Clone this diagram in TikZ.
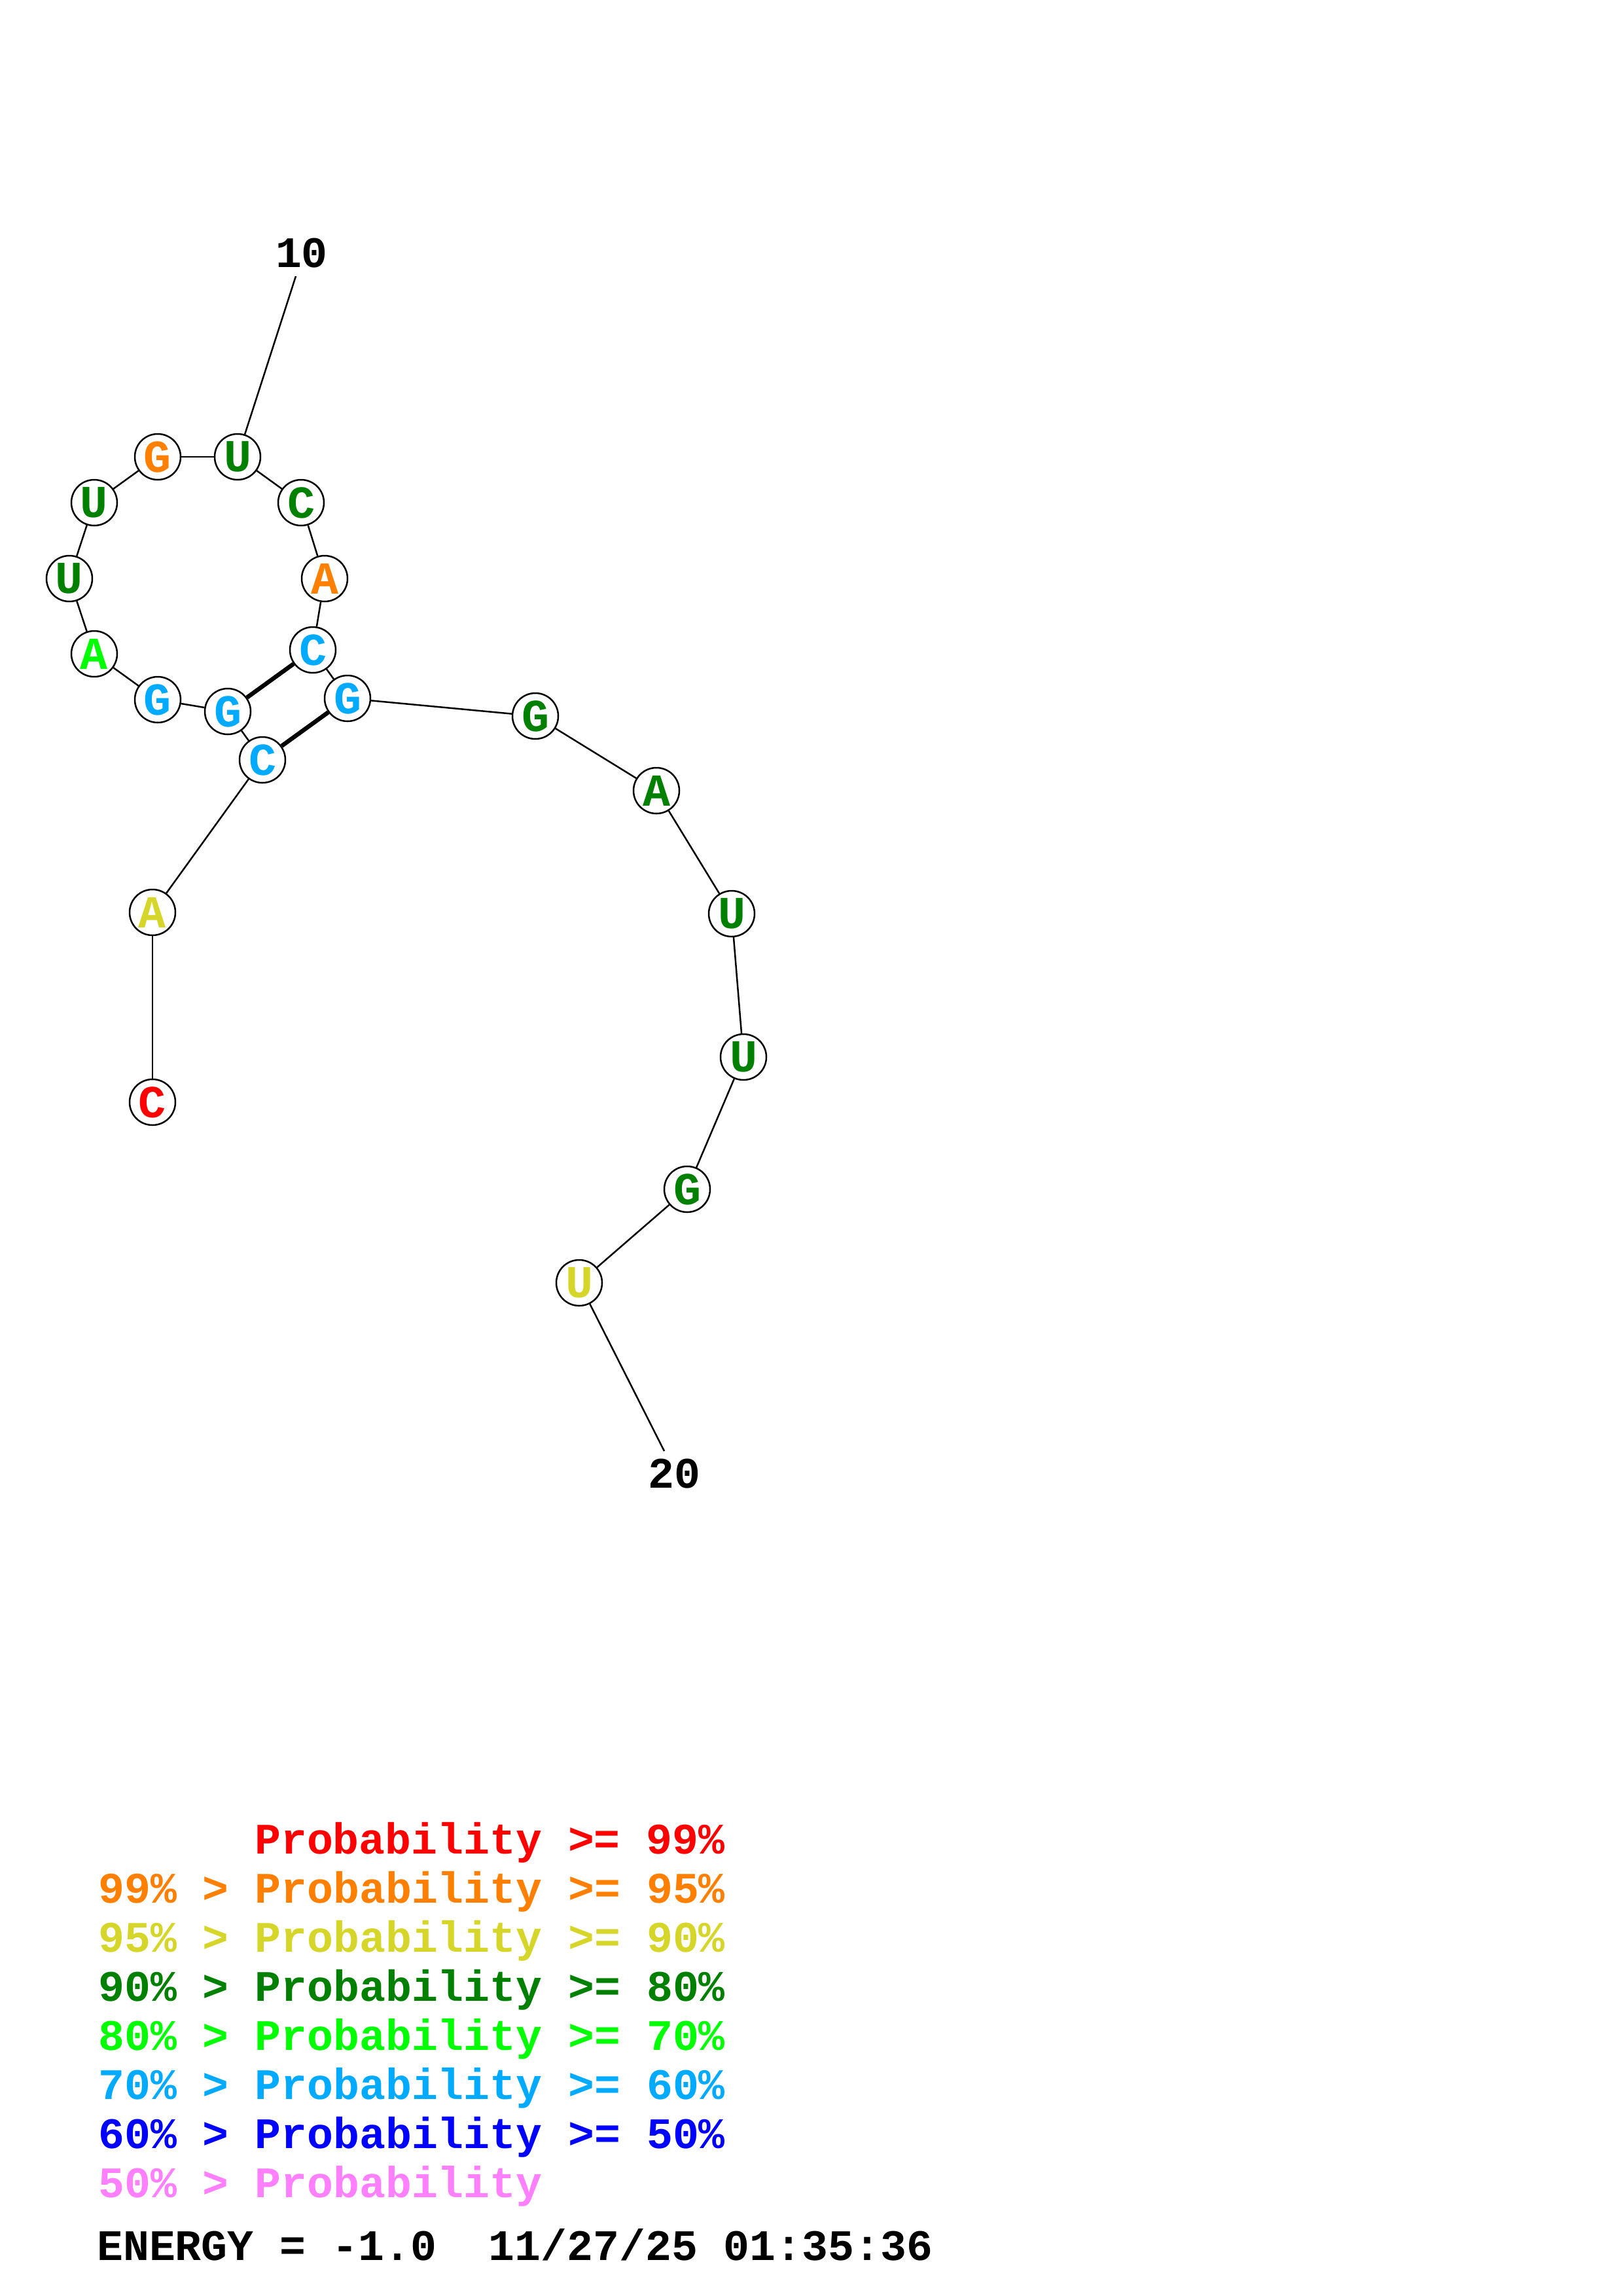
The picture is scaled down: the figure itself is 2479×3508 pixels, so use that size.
\documentclass[tikz,border=0pt]{standalone}
\usepackage{fontspec}
\newfontfamily\cour{Liberation Mono}
\definecolor{pRed}{RGB}{255,0,0}
\definecolor{pOrange}{RGB}{255,128,0}
\definecolor{pYellow}{RGB}{214,214,42}
\definecolor{pGreen}{RGB}{0,128,0}
\definecolor{pLime}{RGB}{0,255,0}
\definecolor{pCyan}{RGB}{0,170,255}
\definecolor{pBlue}{RGB}{0,0,255}
\definecolor{pPink}{RGB}{255,128,255}
\begin{document}
\begin{tikzpicture}[x=1pt,y=-1pt,
  nt/.style={circle,draw=black,line width=2.5pt,fill=white,minimum size=70pt,inner sep=0pt,
    font=\cour\bfseries\fontsize{70}{70}\selectfont},
  bb/.style={line width=2.5pt,black},
  bpair/.style={line width=6.5pt,black},
  lbl/.style={inner sep=0pt,font=\cour\bfseries\fontsize{66.5}{66.5}\selectfont},
  leg/.style={inner sep=0pt,anchor=base west,font=\cour\bfseries\fontsize{66.5}{66.5}\selectfont}]
\useasboundingbox (0,0) rectangle (2479,3508);
\fill[white] (0,0) rectangle (2479,3508);
% nucleotides
\node[nt,text=pRed]    (n1)  at (233,1684) {C};
\node[nt,text=pYellow] (n2)  at (233,1394) {A};
\node[nt,text=pCyan]   (n3)  at (401,1161) {C};
\node[nt,text=pCyan]   (n4)  at (348,1087) {G};
\node[nt,text=pCyan]   (n5)  at (241,1069) {G};
\node[nt,text=pLime]   (n6)  at (144,999)  {A};
\node[nt,text=pGreen]  (n7)  at (106,884)  {U};
\node[nt,text=pGreen]  (n8)  at (144,768)  {U};
\node[nt,text=pOrange] (n9)  at (241,698)  {G};
\node[nt,text=pGreen]  (n10) at (363,698)  {U};
\node[nt,text=pGreen]  (n11) at (460,768)  {C};
\node[nt,text=pOrange] (n12) at (496,884)  {A};
\node[nt,text=pCyan]   (n13) at (478,993)  {C};
\node[nt,text=pCyan]   (n14) at (531,1067) {G};
\node[nt,text=pGreen]  (n15) at (818,1094) {G};
\node[nt,text=pGreen]  (n16) at (1003,1208) {A};
\node[nt,text=pGreen]  (n17) at (1118,1396) {U};
\node[nt,text=pGreen]  (n18) at (1136,1615) {U};
\node[nt,text=pGreen]  (n19) at (1050,1817) {G};
\node[nt,text=pYellow] (n20) at (885,1960) {U};
% backbone
\foreach \a/\b in {1/2,2/3,3/4,4/5,5/6,6/7,7/8,8/9,9/10,10/11,11/12,12/13,13/14,14/15,15/16,16/17,17/18,18/19,19/20}
  \draw[bb] (n\a) -- (n\b);
% base pairs
\draw[bpair] (n3) -- (n14);
\draw[bpair] (n4) -- (n13);
% position labels
\node[lbl] (l10) at (461,387) {10};
\coordinate (c10) at (452,422);
\draw[bb] (c10) -- (n10);
\node[lbl] (l20) at (1030,2252) {20};
\coordinate (c20) at (1015,2217);
\draw[bb] (n20) -- (c20);
% legend
\node[leg,text=pRed]    (g1) at (389,2832) {Probability >= 99\%};
\node[leg,text=pOrange] (g2) at (150,2907) {99\% > Probability >= 95\%};
\node[leg,text=pYellow] (g3) at (150,2982) {95\% > Probability >= 90\%};
\node[leg,text=pGreen]  (g4) at (150,3057) {90\% > Probability >= 80\%};
\node[leg,text=pLime]   (g5) at (150,3132) {80\% > Probability >= 70\%};
\node[leg,text=pCyan]   (g6) at (150,3207) {70\% > Probability >= 60\%};
\node[leg,text=pBlue]   (g7) at (150,3282) {60\% > Probability >= 50\%};
\node[leg,text=pPink]   (g8) at (150,3357) {50\% > Probability};
\node[leg,text=black]   (en) at (148,3453) {ENERGY = -1.0\ \ 11/27/25 01:35:36};
\end{tikzpicture}
\end{document}
